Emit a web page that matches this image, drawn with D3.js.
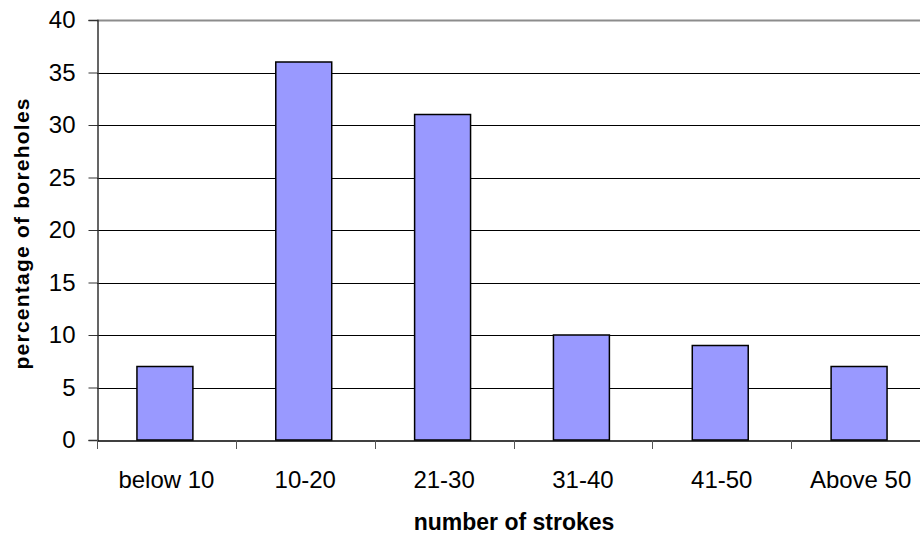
<!DOCTYPE html>
<html>
<head>
<meta charset="utf-8">
<script src="https://cdn.jsdelivr.net/npm/d3@7"></script>
<style>
  html, body { margin: 0; padding: 0; background: #fff; }
  svg { display: block; }
  text { font-family: "Liberation Sans", Arial, sans-serif; fill: #000; }
</style>
</head>
<body>
<svg id="chart" width="920" height="535"></svg>
<script>
const categories = ["below 10", "10-20", "21-30", "31-40", "41-50", "Above 50"];
const values = [7, 36, 31, 10, 9, 7];
const yTicks = [0, 5, 10, 15, 20, 25, 30, 35, 40];
const xTitle = "number of strokes";
const yTitle = "percentage of boreholes";

const svg = d3.select("#chart");
const plotLeft = 97, plotRight = 930, plotTop = 20, plotBottom = 440;

const x = d3.scaleBand().domain(categories).range([plotLeft, plotRight]).padding(0);
const y = d3.scaleLinear().domain([0, 40]).range([plotBottom, plotTop]);

// gridlines
svg.append("g").selectAll("line").data(yTicks.filter(d => d > 0 && d < 40)).join("line")
  .attr("x1", plotLeft).attr("x2", 920)
  .attr("y1", d => Math.round(y(d)) + 0.5).attr("y2", d => Math.round(y(d)) + 0.5)
  .attr("stroke", "#000").attr("stroke-width", 1);

// top border of plot area
svg.append("line").attr("x1", plotLeft).attr("x2", 920)
  .attr("y1", y(40) + 0.5).attr("y2", y(40) + 0.5)
  .attr("stroke", "#8c8c8c").attr("stroke-width", 2);

// bars
const barW = x.bandwidth() * 0.403;
svg.append("g").selectAll("rect").data(values).join("rect")
  .attr("x", (d, i) => x(categories[i]) + x.bandwidth() / 2 - barW / 2 - 1.5)
  .attr("y", d => y(d))
  .attr("width", barW)
  .attr("height", d => plotBottom - y(d))
  .attr("fill", "#9999ff")
  .attr("stroke", "#000")
  .attr("stroke-width", 1.5);

// y axis
const yAxis = d3.axisLeft(y).tickValues(yTicks).tickSize(9).tickPadding(13);
const gy = svg.append("g").attr("transform", `translate(${plotLeft + 0.5},0)`).call(yAxis);
gy.select(".domain").attr("stroke", "#333").attr("stroke-width", 1.5);
gy.selectAll(".tick line").attr("stroke", "#333");
gy.selectAll(".tick text").attr("font-size", 24).attr("font-family", "Liberation Sans, Arial, sans-serif").attr("fill", "#000");

// x axis
const xAxis = d3.axisBottom(x).tickSize(0).tickPadding(0);
const gx = svg.append("g").attr("transform", `translate(0,${plotBottom + 0.5})`).call(xAxis);
gx.select(".domain").attr("stroke", "#000").attr("stroke-width", 1.5);
gx.selectAll(".tick text").attr("font-size", 24).attr("font-family", "Liberation Sans, Arial, sans-serif")
  .attr("fill", "#000").attr("dy", null).attr("y", 47);
// category boundary ticks
svg.append("g").selectAll("line").data(categories).join("line")
  .attr("x1", d => Math.round(x(d)) + 0.5).attr("x2", d => Math.round(x(d)) + 0.5)
  .attr("y1", plotBottom).attr("y2", plotBottom + 9)
  .attr("stroke", "#555").attr("stroke-width", 1);

// titles
svg.append("text").attr("x", 514).attr("y", 530).attr("text-anchor", "middle")
  .attr("font-size", 23).attr("font-weight", "bold").text(xTitle);
svg.append("text").attr("transform", "translate(29,234) rotate(-90)").attr("text-anchor", "middle")
  .attr("font-size", 21).attr("font-weight", "bold")
  .attr("textLength", 271).attr("lengthAdjust", "spacing").text(yTitle);
</script>
</body>
</html>
